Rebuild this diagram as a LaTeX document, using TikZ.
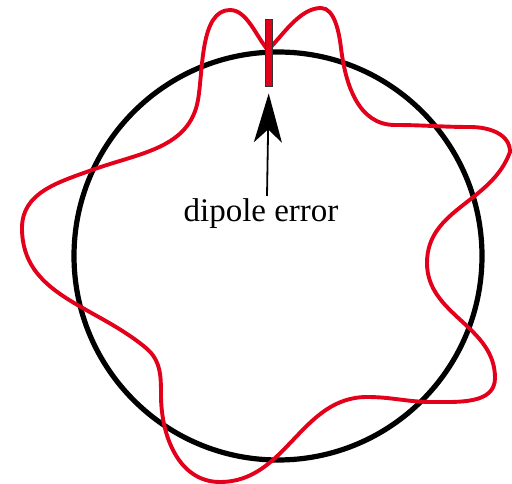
\documentclass[tikz,border=0pt]{standalone}
\usepackage{fontspec}
\setmainfont{Liberation Serif}
\usetikzlibrary{arrows.meta}
\definecolor{orbitred}{RGB}{226,0,26}
\tikzset{
  ring/.style={draw=black,line width=5.2pt},
  orbit/.style={draw=orbitred,line width=3.9pt,line join=round},
  kicker/.style={draw=black!80,fill=orbitred,line width=0.8pt,minimum width=6.5pt,minimum height=67pt,inner sep=0pt},
  pointer/.style={draw=black,line width=1.8pt,-{Stealth[length=49pt,width=28pt,inset=13pt]}},
  lbl/.style={font=\fontsize{33}{35}\selectfont,inner sep=0pt}
}
\begin{document}
\begin{tikzpicture}[x=1pt,y=-1pt]
\useasboundingbox (0,0) rectangle (512,484);
\node[ring,circle,minimum size=408pt,inner sep=0pt] (ring) at (278,256) {};
\draw[orbit] (268,50)
  to[out=45,in=180,looseness=0.8] (321,8)
  to[out=0,in=97,looseness=0.8] (341,48)
  to[out=-83,in=180] (395,125)
  to[out=0,in=180] (470,127)
  to[out=0,in=90] (510,152)
  to[out=-110,in=90] (427,263)
  to[out=-90,in=90] (495,378)
  to[out=-90,in=0] (432,402)
  to[out=180,in=0] (367,397)
  to[out=180,in=0] (220,482)
  to[out=180,in=-90] (161,395)
  to[out=90,in=-40] (146,348)
  to[out=140,in=-90] (22,228)
  to[out=90,in=-160] (92,170)
  to[out=20,in=-100] (198,100)
  to[out=80,in=180,looseness=0.8] (230,10)
  to[out=0,in=132,looseness=0.8] (268,50);
\node[kicker] (kick) at (268.7,52.5) {};
\node[lbl,anchor=base] (txt) at (261,222) {dipole error};
\draw[pointer] (267,196) -- ([yshift=-7pt]kick.south);
\end{tikzpicture}
\end{document}
